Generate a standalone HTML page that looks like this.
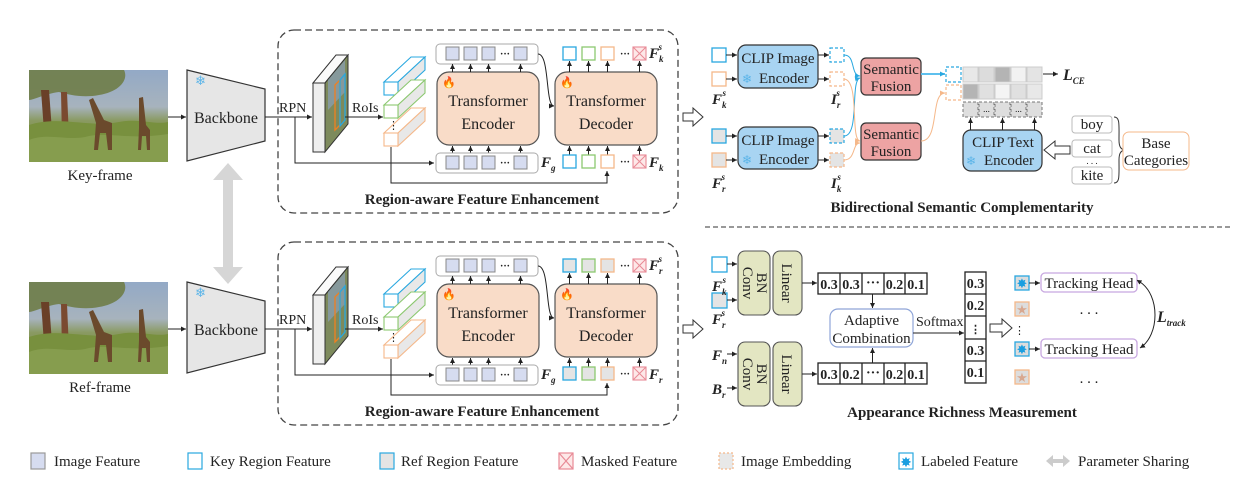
<!DOCTYPE html>
<html><head><meta charset="utf-8"><style>
html,body{margin:0;padding:0;background:#fff;}
svg{display:block;font-family:"Liberation Serif",serif;}
.t{font-size:15px;fill:#222}
.b{font-weight:bold}
.i{font-style:italic;font-weight:bold}
</style></head><body>
<svg width="1235" height="487" viewBox="0 0 1235 487" xmlns="http://www.w3.org/2000/svg">
<defs>
<marker id="a" markerWidth="6" markerHeight="6" refX="5" refY="3" orient="auto" markerUnits="userSpaceOnUse"><path d="M0,0.5 L5,3 L0,5.5 z" fill="#222"/></marker>
<marker id="ab" markerWidth="6" markerHeight="6" refX="5" refY="3" orient="auto" markerUnits="userSpaceOnUse"><path d="M0,0.5 L5,3 L0,5.5 z" fill="#29a8e0"/></marker>
<marker id="ao" markerWidth="6" markerHeight="6" refX="5" refY="3" orient="auto" markerUnits="userSpaceOnUse"><path d="M0,0.5 L5,3 L0,5.5 z" fill="#f5b88a"/></marker>
<marker id="as" markerWidth="6" markerHeight="6" refX="1" refY="3" orient="auto-start-reverse" markerUnits="userSpaceOnUse"><path d="M0,0.5 L5,3 L0,5.5 z" fill="#222"/></marker>
<linearGradient id="sky" x1="0" y1="0" x2="0" y2="1">
<stop offset="0" stop-color="#93a9c6"/><stop offset="0.4" stop-color="#a7b3bd"/><stop offset="0.55" stop-color="#8a9a62"/><stop offset="1" stop-color="#6c7e3e"/></linearGradient>
<g id="photo">
<rect x="0" y="0" width="139" height="92" fill="url(#sky)"/>
<path d="M0,0 L95,0 C100,10 90,22 70,25 C55,28 40,25 30,22 C15,24 5,30 0,30z" fill="#6f7d48" opacity="0.9"/>
<path d="M12,20 L20,20 L24,75 L16,75z" fill="#6a4028"/>
<path d="M32,22 L38,22 L40,68 L33,68z" fill="#7a4a30"/>
<path d="M0,55 C30,45 60,58 90,52 C110,48 125,55 139,52 L139,92 L0,92z" fill="#78903e"/>
<path d="M0,70 C20,62 40,72 60,66 C80,62 100,70 139,64 L139,92 L0,92z" fill="#8aa052" opacity="0.8"/>
<path d="M60,30 L64,28 L75,50 L83,53 L83,80 L79,80 L77,63 L71,63 L69,80 L65,80 L67,53z" fill="#6b4a2c"/>
<path d="M110,28 L114,27 L117,55 L121,60 L121,80 L118,80 L117,66 L113,66 L112,80 L109,80 L110,58z" fill="#6b4a2c"/>
</g>
<g id="panel">
<rect x="278" y="30" width="400" height="183" rx="16" fill="none" stroke="#444" stroke-width="1.3" stroke-dasharray="7,4"/>
<line x1="265" y1="117" x2="312" y2="117" stroke="#222" marker-end="url(#a)"/>
<path d="M295,117 V163 H434" fill="none" stroke="#222" marker-end="url(#a)"/>
<polygon points="313,83 336,55 348,55 325,83" fill="#fafafa" stroke="#333"/>
<polygon points="313,83 325,83 325,152 313,152" fill="#eee" stroke="#333"/>
<polygon points="325,83 348,55 348,124 325,152" fill="#7d8a5c" stroke="#333"/>
<polygon points="328,80 345,60 345,92 328,110" fill="#8a9fb8" opacity="0.7"/>
<polygon points="335,85 340,80 340,125 335,130" fill="none" stroke="#f08020" stroke-width="1.3"/>
<polygon points="340,80 345,74 345,120 340,126" fill="none" stroke="#29a8e0" stroke-width="1.3"/>
<text x="279" y="112" class="t" style="font-size:14px">RPN</text>
<line x1="345" y1="117" x2="383" y2="117" stroke="#222" marker-end="url(#a)"/>
<text x="352" y="112" class="t" style="font-size:14px">RoIs</text>
<g stroke-width="1.1">
<polygon points="384,82 411,57 425,57 398,82" fill="#fff" stroke="#29a8e0"/>
<polygon points="398,82 425,57 425,70 398,95" fill="#e8e8e8" stroke="#29a8e0"/>
<rect x="384" y="82" width="14" height="13" fill="#fff" stroke="#29a8e0"/>
<polygon points="384,105 411,80 425,80 398,105" fill="#fff" stroke="#8cc870"/>
<polygon points="398,105 425,80 425,93 398,118" fill="#e8e8e8" stroke="#8cc870"/>
<rect x="384" y="105" width="14" height="13" fill="#fff" stroke="#8cc870"/>
<polygon points="384,133 411,108 425,108 398,133" fill="#fff" stroke="#f5b88a"/>
<polygon points="398,133 425,108 425,121 398,146" fill="#e8e8e8" stroke="#f5b88a"/>
<rect x="384" y="133" width="14" height="13" fill="#fff" stroke="#f5b88a"/>
</g>
<text x="388" y="129" class="t" style="font-size:11px">⋮</text>
<path d="M391,147 V183 H607 V171" fill="none" stroke="#222" marker-end="url(#a)"/>
<rect x="436" y="44" width="102" height="20" rx="4" fill="#fff" stroke="#aaa"/>
<g fill="#d6dcf0" stroke="#888"><rect x="446" y="47" width="13" height="13"/><rect x="464" y="47" width="13" height="13"/><rect x="482" y="47" width="13" height="13"/><rect x="514" y="47" width="13" height="13"/></g>
<text x="500" y="57" class="t b" style="font-size:10px">···</text>
<rect x="437" y="72" width="102" height="73" rx="12" fill="#f9dcc8" stroke="#555" stroke-width="1.2"/>
<text x="442" y="86" style="font-size:11px" fill="#e83020">🔥</text>
<text x="488" y="106" class="t" text-anchor="middle" style="font-size:16px">Transformer</text>
<text x="488" y="129" class="t" text-anchor="middle" style="font-size:16px">Encoder</text>
<g stroke="#222" marker-end="url(#a)"><line x1="452.5" y1="72" x2="452.5" y2="64"/><line x1="470.5" y1="72" x2="470.5" y2="64"/><line x1="488.5" y1="72" x2="488.5" y2="64"/><line x1="520.5" y1="72" x2="520.5" y2="64"/>
<line x1="452.5" y1="153" x2="452.5" y2="146"/><line x1="470.5" y1="153" x2="470.5" y2="146"/><line x1="488.5" y1="153" x2="488.5" y2="146"/><line x1="520.5" y1="153" x2="520.5" y2="146"/></g>
<rect x="436" y="153" width="102" height="20" rx="4" fill="#fff" stroke="#aaa"/>
<g fill="#d6dcf0" stroke="#888"><rect x="446" y="156" width="13" height="13"/><rect x="464" y="156" width="13" height="13"/><rect x="482" y="156" width="13" height="13"/><rect x="514" y="156" width="13" height="13"/></g>
<text x="500" y="166" class="t b" style="font-size:10px">···</text>
<text x="541" y="167" class="t i" style="font-size:15px">F<tspan dy="4" style="font-size:9px">g</tspan></text>
<path d="M538,54 C550,54 545,106 554,106" fill="none" stroke="#222" marker-end="url(#a)"/>
<rect x="555" y="72" width="102" height="73" rx="12" fill="#f9dcc8" stroke="#555" stroke-width="1.2"/>
<text x="560" y="86" style="font-size:11px" fill="#e83020">🔥</text>
<text x="606" y="106" class="t" text-anchor="middle" style="font-size:16px">Transformer</text>
<text x="606" y="129" class="t" text-anchor="middle" style="font-size:16px">Decoder</text>
<g stroke="#222" marker-end="url(#a)"><line x1="569.5" y1="72" x2="569.5" y2="61"/><line x1="588.5" y1="72" x2="588.5" y2="61"/><line x1="607.5" y1="72" x2="607.5" y2="61"/><line x1="639.5" y1="72" x2="639.5" y2="61"/>
<line x1="569.5" y1="155" x2="569.5" y2="146"/><line x1="588.5" y1="155" x2="588.5" y2="146"/><line x1="607.5" y1="155" x2="607.5" y2="146"/><line x1="639.5" y1="155" x2="639.5" y2="146"/></g>
</g>
<g id="regsq">
<rect x="563" y="0" width="13" height="13" stroke="#29a8e0" stroke-width="1.3"/>
<rect x="582" y="0" width="13" height="13" stroke="#8cc870" stroke-width="1.3"/>
<rect x="601" y="0" width="13" height="13" stroke="#f5b88a" stroke-width="1.3"/>
<rect x="633" y="0" width="13" height="13" fill="#fde8e8" stroke="#e88a96" stroke-width="1.1"/>
<path d="M633,0 L646,13 M646,0 L633,13" stroke="#e88a96"/>
</g>
</defs>

<use href="#photo" x="29" y="70"/>
<use href="#photo" x="29" y="282"/>
<text x="100" y="180" class="t" text-anchor="middle">Key-frame</text>
<text x="100" y="392" class="t" text-anchor="middle">Ref-frame</text>
<line x1="168" y1="117" x2="186" y2="117" stroke="#222" marker-end="url(#a)"/>
<line x1="168" y1="329" x2="186" y2="329" stroke="#222" marker-end="url(#a)"/>
<polygon points="187,70 265,89 265,141 187,161" fill="#e6e6e6" stroke="#333" stroke-width="1.2"/>
<polygon points="187,282 265,301 265,353 187,373" fill="#e6e6e6" stroke="#333" stroke-width="1.2"/>
<text x="195" y="85" fill="#5ab4e8" style="font-size:13px">❄</text>
<text x="195" y="297" fill="#5ab4e8" style="font-size:13px">❄</text>
<text x="226" y="123" class="t" text-anchor="middle" style="font-size:16px">Backbone</text>
<text x="226" y="335" class="t" text-anchor="middle" style="font-size:16px">Backbone</text>
<polygon points="228,163 243,180 233,180 233,267 243,267 228,284 213,267 223,267 223,180 213,180" fill="#d6d6d6"/>

<use href="#panel"/>
<use href="#panel" y="212"/>
<use href="#regsq" y="47" fill="#fff"/>
<use href="#regsq" y="155" fill="#fff"/>
<use href="#regsq" y="259" fill="#e4e4e4"/>
<use href="#regsq" y="367" fill="#e4e4e4"/>
<text x="620" y="57" class="t b" style="font-size:10px">···</text>
<text x="620" y="165" class="t b" style="font-size:10px">···</text>
<text x="620" y="269" class="t b" style="font-size:10px">···</text>
<text x="620" y="377" class="t b" style="font-size:10px">···</text>
<text x="649" y="58" class="t i" style="font-size:15px">F<tspan dy="4" style="font-size:9px">k</tspan><tspan dx="-5" dy="-12" style="font-size:9px">s</tspan></text>
<text x="649" y="167" class="t i" style="font-size:15px">F<tspan dy="4" style="font-size:9px">k</tspan></text>
<text x="649" y="270" class="t i" style="font-size:15px">F<tspan dy="4" style="font-size:9px">r</tspan><tspan dx="-4" dy="-12" style="font-size:9px">s</tspan></text>
<text x="649" y="379" class="t i" style="font-size:15px">F<tspan dy="4" style="font-size:9px">r</tspan></text>
<text x="482" y="204" class="t b" text-anchor="middle">Region-aware Feature Enhancement</text>
<text x="482" y="416" class="t b" text-anchor="middle">Region-aware Feature Enhancement</text>

<polygon points="683,113 693,113 693,108 703,117 693,126 693,121 683,121" fill="#fff" stroke="#333"/>
<polygon points="683,325 693,325 693,320 703,329 693,338 693,333 683,333" fill="#fff" stroke="#333"/>

<rect x="712" y="48" width="14" height="14" fill="#fff" stroke="#29a8e0" stroke-width="1.3"/>
<rect x="712" y="72" width="14" height="14" fill="#fff" stroke="#f5b88a" stroke-width="1.3"/>
<rect x="712" y="129" width="14" height="14" fill="#e4e4e4" stroke="#29a8e0" stroke-width="1.3"/>
<rect x="712" y="153" width="14" height="14" fill="#e4e4e4" stroke="#f5b88a" stroke-width="1.3"/>
<g stroke="#222" marker-end="url(#a)"><line x1="726" y1="55" x2="737" y2="55"/><line x1="726" y1="79" x2="737" y2="79"/><line x1="726" y1="136" x2="737" y2="136"/><line x1="726" y1="160" x2="737" y2="160"/>
<line x1="818" y1="55" x2="829" y2="55"/><line x1="818" y1="79" x2="829" y2="79"/><line x1="818" y1="136" x2="829" y2="136"/><line x1="818" y1="160" x2="829" y2="160"/></g>
<rect x="738" y="45" width="80" height="43" rx="8" fill="#a8d4f2" stroke="#333" stroke-width="1.2"/>
<rect x="738" y="127" width="80" height="42" rx="8" fill="#a8d4f2" stroke="#333" stroke-width="1.2"/>
<text x="778" y="63" class="t" text-anchor="middle">CLIP Image</text>
<text x="742" y="83" fill="#5ab4e8" style="font-size:12px">❄</text>
<text x="784" y="83" class="t" text-anchor="middle">Encoder</text>
<text x="778" y="145" class="t" text-anchor="middle">CLIP Image</text>
<text x="742" y="164" fill="#5ab4e8" style="font-size:12px">❄</text>
<text x="784" y="164" class="t" text-anchor="middle">Encoder</text>
<rect x="830" y="48" width="14" height="14" fill="#fff" stroke="#29a8e0" stroke-dasharray="3,2" stroke-width="1.2"/>
<rect x="830" y="72" width="14" height="14" fill="#fff" stroke="#f5b88a" stroke-dasharray="3,2" stroke-width="1.2"/>
<rect x="830" y="129" width="14" height="14" fill="#e4e4e4" stroke="#29a8e0" stroke-dasharray="3,2" stroke-width="1.2"/>
<rect x="830" y="153" width="14" height="14" fill="#e4e4e4" stroke="#f5b88a" stroke-dasharray="3,2" stroke-width="1.2"/>
<text x="712" y="104" class="t i" style="font-size:15px">F<tspan dy="4" style="font-size:9px">k</tspan><tspan dx="-4" dy="-12" style="font-size:9px">s</tspan></text>
<text x="712" y="188" class="t i" style="font-size:15px">F<tspan dy="4" style="font-size:9px">r</tspan><tspan dx="-4" dy="-12" style="font-size:9px">s</tspan></text>
<text x="831" y="104" class="t i" style="font-size:15px">I<tspan dy="4" style="font-size:9px">r</tspan><tspan dx="-4" dy="-12" style="font-size:9px">s</tspan></text>
<text x="831" y="188" class="t i" style="font-size:15px">I<tspan dy="4" style="font-size:9px">k</tspan><tspan dx="-4" dy="-12" style="font-size:9px">s</tspan></text>
<path d="M844,55 C856,55 850,75 860,76" fill="none" stroke="#29a8e0" marker-end="url(#ab)"/>
<path d="M844,136 C860,136 850,80 860,78" fill="none" stroke="#29a8e0" marker-end="url(#ab)"/>
<path d="M844,79 C860,80 850,140 860,141" fill="none" stroke="#f5b88a" marker-end="url(#ao)"/>
<path d="M844,160 C856,160 852,143 860,143" fill="none" stroke="#f5b88a" marker-end="url(#ao)"/>
<rect x="861" y="58" width="60" height="37" rx="5" fill="#eda3a3" stroke="#333" stroke-width="1.2"/>
<rect x="861" y="123" width="60" height="37" rx="5" fill="#eda3a3" stroke="#333" stroke-width="1.2"/>
<text x="891" y="74" class="t" text-anchor="middle">Semantic</text>
<text x="891" y="91" class="t" text-anchor="middle">Fusion</text>
<text x="891" y="139" class="t" text-anchor="middle">Semantic</text>
<text x="891" y="156" class="t" text-anchor="middle">Fusion</text>
<line x1="921" y1="74" x2="945" y2="74" stroke="#5ec0ee" stroke-width="2" marker-end="url(#ab)"/>
<path d="M921,141 C940,141 930,93 945,93" fill="none" stroke="#f5b88a" marker-end="url(#ao)"/>
<rect x="946" y="67" width="15" height="15" fill="#fff" stroke="#29a8e0" stroke-dasharray="3,2" stroke-width="1.2"/>
<rect x="946" y="85" width="15" height="15" fill="#fff" stroke="#f5b88a" stroke-dasharray="3,2" stroke-width="1.2"/>
<g stroke="#ccc">
<rect x="963" y="67" width="15" height="15" fill="#e8e8e8"/><rect x="979" y="67" width="15" height="15" fill="#dcdcdc"/><rect x="995" y="67" width="15" height="15" fill="#b4b4b4"/><rect x="1011" y="67" width="15" height="15" fill="#f2f2f2"/><rect x="1027" y="67" width="15" height="15" fill="#e4e4e4"/>
<rect x="963" y="84" width="15" height="15" fill="#b4b4b4"/><rect x="979" y="84" width="15" height="15" fill="#e0e0e0"/><rect x="995" y="84" width="15" height="15" fill="#f4f4f4"/><rect x="1011" y="84" width="15" height="15" fill="#e0e0e0"/><rect x="1027" y="84" width="15" height="15" fill="#e8e8e8"/>
</g>
<g stroke="#777" stroke-dasharray="3,2" fill="#dedede">
<rect x="963" y="102" width="15" height="15"/><rect x="979" y="102" width="15" height="15"/><rect x="995" y="102" width="15" height="15"/><rect x="1011" y="102" width="15" height="15"/><rect x="1027" y="102" width="15" height="15"/></g>
<text x="986.5" y="112" class="t" text-anchor="middle" style="font-size:9px">...</text>
<text x="1018.5" y="112" class="t" text-anchor="middle" style="font-size:9px">...</text>
<line x1="1043" y1="74" x2="1058" y2="74" stroke="#222" marker-end="url(#a)"/>
<text x="1063" y="80" class="t i" style="font-size:16px">L<tspan dy="4" style="font-size:9px">CE</tspan></text>
<g stroke="#222" marker-end="url(#a)"><line x1="970.5" y1="130" x2="970.5" y2="118"/><line x1="1002.5" y1="130" x2="1002.5" y2="118"/><line x1="1034.5" y1="130" x2="1034.5" y2="118"/></g>
<rect x="963" y="130" width="79" height="41" rx="8" fill="#a8d4f2" stroke="#333" stroke-width="1.2"/>
<text x="1003" y="147" class="t" text-anchor="middle">CLIP Text</text>
<text x="966" y="165" fill="#5ab4e8" style="font-size:12px">❄</text>
<text x="1009" y="165" class="t" text-anchor="middle">Encoder</text>
<polygon points="1044,150 1055,141 1055,146 1070,146 1070,154 1055,154 1055,159" fill="#fff" stroke="#333"/>
<g fill="#fff" stroke="#bbb"><rect x="1072" y="116" width="40" height="17" rx="3"/><rect x="1072" y="140" width="40" height="17" rx="3"/><rect x="1072" y="167" width="40" height="17" rx="3"/></g>
<text x="1092" y="129" class="t" text-anchor="middle">boy</text>
<text x="1092" y="153" class="t" text-anchor="middle">cat</text>
<text x="1092" y="164" class="t" text-anchor="middle" style="font-size:9px">. . .</text>
<text x="1092" y="180" class="t" text-anchor="middle">kite</text>
<path d="M1114,117 C1120,117 1119,124 1119,140 C1119,147 1121,149 1124,150 C1121,151 1119,153 1119,160 C1119,176 1120,183 1114,183" fill="none" stroke="#333"/>
<rect x="1123" y="132" width="66" height="38" rx="6" fill="#fff" stroke="#f5b88a"/>
<text x="1156" y="148" class="t" text-anchor="middle">Base</text>
<text x="1156" y="165" class="t" text-anchor="middle">Categories</text>
<text x="962" y="212" class="t b" text-anchor="middle">Bidirectional Semantic Complementarity</text>
<line x1="705" y1="227" x2="1230" y2="227" stroke="#333" stroke-dasharray="5,3"/>

<rect x="712" y="257" width="15" height="15" fill="#fff" stroke="#29a8e0" stroke-width="1.3"/>
<rect x="712" y="293" width="15" height="15" fill="#e4e4e4" stroke="#29a8e0" stroke-width="1.3"/>
<g stroke="#222" marker-end="url(#a)"><line x1="727" y1="264" x2="737" y2="264"/><line x1="727" y1="300" x2="737" y2="300"/><line x1="727" y1="354" x2="737" y2="354"/><line x1="727" y1="388" x2="737" y2="388"/></g>
<text x="712" y="291" class="t i" style="font-size:15px">F<tspan dy="4" style="font-size:9px">k</tspan><tspan dx="-4" dy="-12" style="font-size:9px">s</tspan></text>
<text x="712" y="324" class="t i" style="font-size:15px">F<tspan dy="4" style="font-size:9px">r</tspan><tspan dx="-4" dy="-12" style="font-size:9px">s</tspan></text>
<text x="712" y="360" class="t i" style="font-size:15px">F<tspan dy="4" style="font-size:9px">n</tspan></text>
<text x="712" y="394" class="t i" style="font-size:15px">B<tspan dy="4" style="font-size:9px">r</tspan></text>
<g fill="#e3e6c2" stroke="#555" stroke-width="1.1">
<rect x="738" y="251" width="32" height="64" rx="7"/><rect x="773" y="251" width="29" height="64" rx="7"/>
<rect x="738" y="342" width="32" height="64" rx="7"/><rect x="773" y="342" width="29" height="64" rx="7"/></g>
<g class="t" style="font-size:15px">
<text transform="translate(757,283) rotate(90)" text-anchor="middle">BN</text>
<text transform="translate(743,283) rotate(90)" text-anchor="middle">Conv</text>
<text transform="translate(782,283) rotate(90)" text-anchor="middle">Linear</text>
<text transform="translate(757,374) rotate(90)" text-anchor="middle">BN</text>
<text transform="translate(743,374) rotate(90)" text-anchor="middle">Conv</text>
<text transform="translate(782,374) rotate(90)" text-anchor="middle">Linear</text>
</g>
<path d="M802,283 H817" stroke="#222" marker-end="url(#a)"/>
<path d="M802,374 H817" stroke="#222" marker-end="url(#a)"/>
<g fill="#fff" stroke="#222" stroke-width="1.3">
<rect x="818" y="273" width="109" height="21"/><rect x="818" y="363" width="109" height="21"/>
<rect x="965" y="272" width="21" height="111"/></g>
<g stroke="#222" stroke-width="1.3"><path d="M840,273V294M862,273V294M884,273V294M905,273V294M840,363V384M862,363V384M884,363V384M905,363V384M965,294H986M965,316H986M965,339H986M965,361H986"/></g>
<g class="t b" style="font-size:14px" text-anchor="middle">
<text x="829" y="289">0.3</text><text x="851" y="289">0.3</text><text x="873" y="287">···</text><text x="894.5" y="289">0.2</text><text x="916" y="289">0.1</text>
<text x="829" y="379">0.3</text><text x="851" y="379">0.2</text><text x="873" y="377">···</text><text x="894.5" y="379">0.2</text><text x="916" y="379">0.1</text>
<text x="975.5" y="288">0.3</text><text x="975.5" y="310">0.2</text><text x="975.5" y="333" style="font-size:11px">⋮</text><text x="975.5" y="355">0.3</text><text x="975.5" y="377">0.1</text>
</g>
<line x1="872.5" y1="294" x2="872.5" y2="308" stroke="#222" marker-end="url(#a)"/>
<line x1="872.5" y1="363" x2="872.5" y2="348" stroke="#222" marker-end="url(#a)"/>
<rect x="830" y="309" width="83" height="38" rx="8" fill="#fff" stroke="#8fa5d8" stroke-width="1.2"/>
<text x="871.5" y="325" class="t" text-anchor="middle">Adaptive</text>
<text x="871.5" y="343" class="t" text-anchor="middle">Combination</text>
<line x1="913" y1="333" x2="964" y2="333" stroke="#222" marker-end="url(#a)"/>
<text x="916" y="326" class="t" style="font-size:14px">Softmax</text>
<polygon points="990,324 1002,324 1002,319 1012,328 1002,337 1002,332 990,332" fill="#fff" stroke="#333"/>
<text x="1014" y="334" class="t" style="font-size:11px">⋮</text>
<g stroke-width="1.3">
<rect x="1015" y="276" width="14" height="14" fill="#ddd" stroke="#29a8e0"/>
<rect x="1015" y="302" width="14" height="14" fill="#ddd" stroke="#f5b88a"/>
<rect x="1015" y="342" width="14" height="14" fill="#ddd" stroke="#29a8e0"/>
<rect x="1015" y="370" width="14" height="14" fill="#ddd" stroke="#f5b88a"/></g>
<g style="font-size:13px" text-anchor="middle">
<text x="1022" y="288" fill="#1a9ee0">✸</text><text x="1022" y="314" fill="#d8a890">★</text>
<text x="1022" y="354" fill="#1a9ee0">✸</text><text x="1022" y="382" fill="#d8a890">★</text></g>
<line x1="1029" y1="283" x2="1040" y2="283" stroke="#222" marker-end="url(#a)"/>
<line x1="1029" y1="349" x2="1040" y2="349" stroke="#222" marker-end="url(#a)"/>
<rect x="1041" y="273" width="96" height="19" rx="4" fill="#fff" stroke="#c8a8e0" stroke-width="1.3"/>
<rect x="1041" y="339" width="96" height="19" rx="4" fill="#fff" stroke="#c8a8e0" stroke-width="1.3"/>
<text x="1089" y="288" class="t" text-anchor="middle">Tracking Head</text>
<text x="1089" y="354" class="t" text-anchor="middle">Tracking Head</text>
<text x="1089" y="314" class="t" text-anchor="middle">. . .</text>
<text x="1089" y="383" class="t" text-anchor="middle">. . .</text>
<path d="M1140,282 C1160,295 1160,335 1140,348" fill="none" stroke="#222" marker-start="url(#as)" marker-end="url(#a)"/>
<text x="1157" y="322" class="t i" style="font-size:16px">L<tspan dy="4" style="font-size:9px">track</tspan></text>
<text x="962" y="417" class="t b" text-anchor="middle">Appearance Richness Measurement</text>

<g stroke-width="1.2">
<rect x="31" y="453" width="14" height="16" fill="#d6dcf0" stroke="#999"/>
<rect x="188" y="453" width="14" height="16" fill="#fff" stroke="#29a8e0"/>
<rect x="380" y="453" width="14" height="16" fill="#e4e4e4" stroke="#29a8e0"/>
<rect x="559" y="453" width="14" height="16" fill="#fde8e8" stroke="#e88a96"/>
<path d="M559,453 L573,469 M573,453 L559,469" stroke="#e88a96"/>
<rect x="719" y="453" width="14" height="16" fill="#e8e8e8" stroke="#f5b88a" stroke-dasharray="2,2"/>
<rect x="899" y="453" width="14" height="16" fill="#fff" stroke="#29a8e0"/></g>
<text x="906" y="467" fill="#1a9ee0" text-anchor="middle" style="font-size:14px">✸</text>
<polygon points="1046,461 1053,455 1053,459 1063,459 1063,455 1070,461 1063,467 1063,463 1053,463 1053,467" fill="#ccc"/>
<g class="t">
<text x="54" y="466">Image Feature</text>
<text x="210" y="466">Key Region Feature</text>
<text x="401" y="466">Ref Region Feature</text>
<text x="581" y="466">Masked Feature</text>
<text x="741" y="466">Image Embedding</text>
<text x="921" y="466">Labeled Feature</text>
<text x="1078" y="466">Parameter Sharing</text>
</g>
</svg>
</body></html>
